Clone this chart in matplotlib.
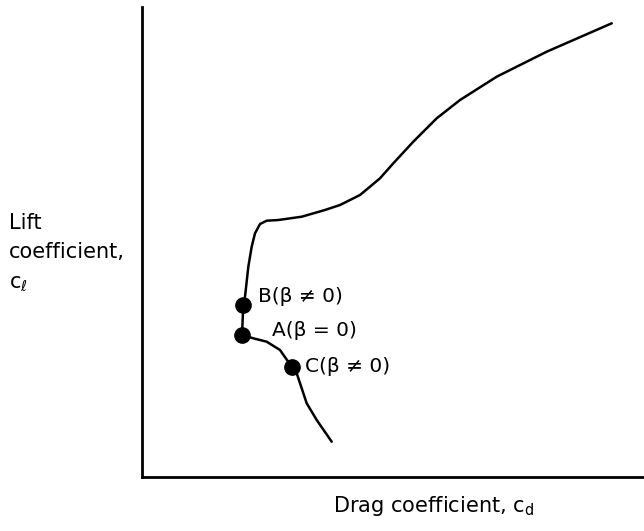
import matplotlib
matplotlib.use("Agg")
import matplotlib.pyplot as plt

# Lift/drag polar sketch (arbitrary units, 0-100 on both axes)
upper_cd = [19.92, 20.18, 20.52, 21.18, 21.85, 22.51, 23.51, 24.84, 27.15, 31.81,
            36.45, 39.44, 43.43, 47.41, 50.06, 54.04, 58.71, 63.35, 70.66, 80.62, 93.57]
upper_cl = [30.21, 36.60, 38.36, 44.74, 49.00, 51.85, 53.83, 54.53, 54.68, 55.38,
            56.81, 57.87, 60.00, 63.55, 66.74, 71.34, 76.32, 80.21, 85.17, 90.49, 96.53]

lower_cd = [19.92, 22.17, 24.84, 27.49, 29.82, 30.82, 32.81, 34.80, 37.79]
lower_cl = [30.21, 29.51, 28.79, 27.02, 23.47, 22.06, 15.68, 12.13, 7.51]

point_names = ["B", "A", "C"]
point_labels = ["B(\u03b2 \u2260 0)", "A(\u03b2 = 0)", "C(\u03b2 \u2260 0)"]
point_cd = [20.18, 19.92, 29.82]
point_cl = [36.60, 30.21, 23.47]

W, H = 644, 531
fig = plt.figure(figsize=(W / 100, H / 100), dpi=100)
ax = fig.add_axes([142 / W, 1 - 477 / H, (644 - 142) / W, (477 - 7) / H])
ax.set_xlim(0, 100)
ax.set_ylim(0, 100)
for side in ("top", "right"):
    ax.spines[side].set_visible(False)
for side in ("left", "bottom"):
    ax.spines[side].set_linewidth(2.0)
ax.set_xticks([])
ax.set_yticks([])

ax.plot(upper_cd, upper_cl, color="black", lw=1.8, solid_capstyle="round")
ax.plot(lower_cd, lower_cl, color="black", lw=1.8, solid_capstyle="round")
ax.plot(point_cd, point_cl, "o", color="black", ms=11, zorder=3)

label_dx = [3.0, 6.0, 2.7]
label_dy = [1.8, 1.0, 0.0]
for lbl, x, y, dx, dy in zip(point_labels, point_cd, point_cl, label_dx, label_dy):
    ax.text(x + dx, y + dy, lbl, fontsize=14.5, va="center", ha="left")

fig.text(333 / W, 1 - 512 / H, r"Drag coefficient, $\mathregular{c_d}$",
         fontsize=15, ha="left", va="baseline")
fig.text(9 / W, 1 - 229 / H, "Lift", fontsize=15, ha="left", va="baseline")
fig.text(9 / W, 1 - 258 / H, "coefficient,", fontsize=15, ha="left", va="baseline")
fig.text(9 / W, 1 - 288 / H, r"$\mathregular{c_\ell}$", fontsize=15, ha="left", va="baseline")

fig.savefig("out.png", dpi=100)
